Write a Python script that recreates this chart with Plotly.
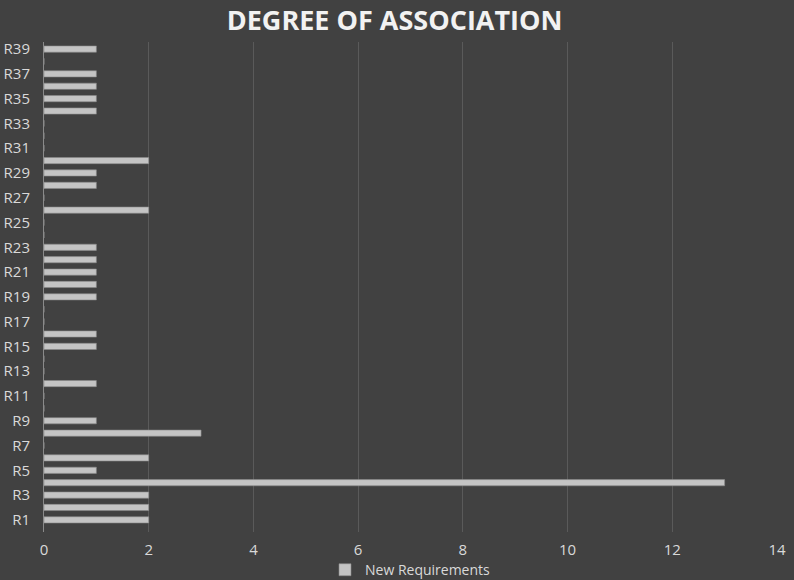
import plotly.graph_objects as go

categories = [f"R{i}" for i in range(1, 40)]
values = [2, 2, 2, 13, 1, 2, 0, 3, 1, 0,
          0, 1, 0, 0, 1, 1, 0, 0, 1, 1,
          1, 1, 1, 0, 0, 2, 0, 1, 1, 2,
          0, 0, 0, 1, 1, 1, 1, 0, 1]
tick_labels = [f"R{i}" for i in range(1, 40, 2)]
x_ticks = [0, 2, 4, 6, 8, 10, 12, 14]
series_name = "New Requirements"

fig = go.Figure()
fig.add_trace(go.Bar(
    y=categories, x=values, orientation="h", name=series_name,
    marker=dict(color="#c4c4c4", line=dict(color="#8a8a8a", width=0.6)),
    showlegend=True,
))

fig.update_layout(
    width=794, height=580,
    margin=dict(l=44, r=17, t=42, b=48, autoexpand=False),
    paper_bgcolor="#414141", plot_bgcolor="rgba(0,0,0,0)",
    bargap=0.5,
    title=dict(text="<b>DEGREE OF ASSOCIATION</b>", x=0.497, xanchor="center",
               y=0.965, yref="container", yanchor="middle",
               font=dict(family="Open Sans", size=27, color="#f2f2f2")),
    font=dict(family="Liberation Sans Narrow, Open Sans", color="#d9d9d9", size=15),
    xaxis=dict(range=[0, 14], tickvals=x_ticks, showgrid=True,
               gridcolor="#5a5a5a", gridwidth=1, zeroline=False,
               showline=False, ticks="", tickfont=dict(size=15, color="#d9d9d9"),
               ticklabelstandoff=7, fixedrange=True),
    yaxis=dict(type="category", categoryorder="array", categoryarray=categories,
               tickvals=tick_labels, ticktext=tick_labels, showgrid=False,
               showline=True, linecolor="#8a8a8a", linewidth=1, ticks="",
               tickfont=dict(size=15, color="#d9d9d9"), ticklabelstandoff=10,
               range=[-0.98, 38.57]),
    legend=dict(orientation="h", x=0.5, xanchor="center", y=0.017, yref="container",
                yanchor="middle",
                font=dict(size=14, color="#d9d9d9"), bgcolor="rgba(0,0,0,0)",
                itemwidth=30),
)

fig.write_html("out.html")
